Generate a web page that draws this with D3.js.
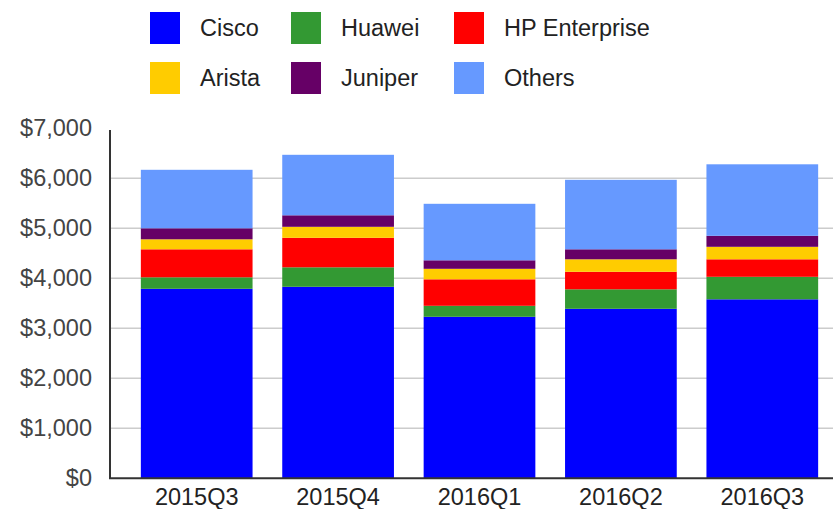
<!DOCTYPE html>
<html>
<head>
<meta charset="utf-8">
<script src="https://cdn.jsdelivr.net/npm/d3@7"></script>
<style>
    body { margin: 0; background: #fff; }
    text { font-family: "Liberation Sans", Arial, sans-serif; }
</style>
</head>
<body>
<div class="graph"></div>
<script>
// Data (millions of dollars)
const quarters = ["2015Q3", "2015Q4", "2016Q1", "2016Q2", "2016Q3"];
const vendors = ["Cisco", "Huawei", "HP Enterprise", "Arista", "Juniper", "Others"];
const cisco = [3790, 3830, 3230, 3390, 3580];
const huawei = [230, 390, 220, 390, 450];
const hpe = [560, 590, 530, 350, 350];
const arista = [200, 220, 210, 250, 250];
const juniper = [220, 230, 170, 200, 220];
const others = [1170, 1210, 1130, 1390, 1430];
const yTicks = [0, 1000, 2000, 3000, 4000, 5000, 6000, 7000];
const colors = ["#0000ff", "#339933", "#ff0000", "#ffcc00", "#660066", "#6699ff"];

// The dimensions of the graph
const dimensions = {
    width: 833,
    height: 509,
    margins: {
        top: 128.3,
        bottom: 30.7,
        left: 110,
        right: 0
    }
};
const fontSize = "23.5px";

const seriesValues = [cisco, huawei, hpe, arista, juniper, others];
const table = quarters.map((q, i) => {
    const row = { quarter: q };
    vendors.forEach((v, j) => { row[v] = seriesValues[j][i]; });
    return row;
});

const wrapper = d3.select(".graph")
    .append("svg")
        .attr("width", dimensions.width)
        .attr("height", dimensions.height);

const yScale = d3.scaleLinear()
    .domain([0, 7000])
    .range([dimensions.height - dimensions.margins.bottom, dimensions.margins.top]);

const xScale = d3.scaleBand()
    .domain(quarters)
    .range([126, dimensions.width])
    .paddingInner(0.21)
    .paddingOuter(0.105);

// gridlines go under the bars
wrapper.append("g")
    .selectAll("line")
    .data(yTicks.filter(t => t > 0 && t < 7000))
    .join("line")
        .attr("x1", dimensions.margins.left)
        .attr("x2", dimensions.width)
        .attr("y1", d => yScale(d))
        .attr("y2", d => yScale(d))
        .attr("stroke", "#cccccc")
        .attr("stroke-width", 1.5);

// stacked bars
const stacked = d3.stack().keys(vendors)(table);
wrapper.append("g")
    .selectAll("g")
    .data(stacked)
    .join("g")
        .attr("fill", (d, i) => colors[i])
    .selectAll("rect")
    .data(d => d)
    .join("rect")
        .attr("x", d => xScale(d.data.quarter))
        .attr("width", xScale.bandwidth())
        .attr("y", d => yScale(d[1]))
        .attr("height", d => yScale(d[0]) - yScale(d[1]));

// y axis labels
const yAxis = wrapper.append("g")
    .attr("transform", `translate(${dimensions.margins.left},0)`)
    .call(d3.axisLeft(yScale).tickValues(yTicks).tickSize(0).tickPadding(18)
        .tickFormat(d => "$" + d3.format(",")(d)));
yAxis.select(".domain").remove();
yAxis.selectAll("text")
    .attr("fill", "#444")
    .style("font-size", fontSize);

// x axis labels
const xAxis = wrapper.append("g")
    .attr("transform", `translate(0,${yScale(0)})`)
    .call(d3.axisBottom(xScale).tickSize(0).tickPadding(10));
xAxis.select(".domain").remove();
xAxis.selectAll("text")
    .attr("fill", "#222")
    .style("font-size", fontSize);

// axis lines
wrapper.append("line")
    .attr("x1", dimensions.margins.left).attr("x2", dimensions.margins.left)
    .attr("y1", 130).attr("y2", yScale(0))
    .attr("stroke", "#333").attr("stroke-width", 2);
wrapper.append("line")
    .attr("x1", dimensions.margins.left - 1).attr("x2", dimensions.width)
    .attr("y1", yScale(0)).attr("y2", yScale(0))
    .attr("stroke", "#333").attr("stroke-width", 2);

// legend, two rows of three
const legendCols = [150, 291, 454];
const legend = wrapper.append("g")
    .selectAll("g")
    .data(vendors)
    .join("g")
        .attr("transform", (d, i) => `translate(${legendCols[i % 3]},${12 + Math.floor(i / 3) * 50})`);
legend.append("rect")
    .attr("width", 30)
    .attr("height", 32)
    .attr("fill", (d, i) => colors[i]);
legend.append("text")
    .attr("x", 50)
    .attr("y", 16)
    .attr("dy", "0.35em")
    .attr("fill", "#222")
    .style("font-size", fontSize)
    .text(d => d);
</script>
</body>
</html>
